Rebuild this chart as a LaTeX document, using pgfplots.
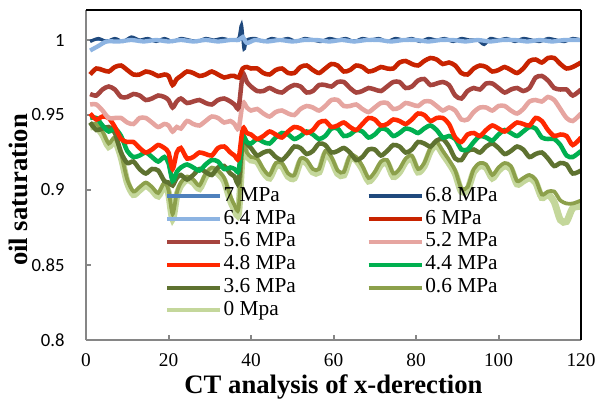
\documentclass[border=0pt]{standalone}
\usepackage{pgfplots}
\usepackage{pgfplotstable}
\pgfplotsset{compat=1.18}
\usepackage{fontspec}
\setmainfont{Liberation Serif}
\newfontfamily\ytickfont{Carlito}

\definecolor{c7}{RGB}{79,129,189}
\definecolor{c68}{RGB}{31,73,125}
\definecolor{c64}{RGB}{141,180,226}
\definecolor{c6}{RGB}{200,35,0}
\definecolor{c56}{RGB}{166,68,62}
\definecolor{c52}{RGB}{230,165,160}
\definecolor{c48}{RGB}{255,40,0}
\definecolor{c44}{RGB}{0,176,80}
\definecolor{c36}{RGB}{94,114,48}
\definecolor{c06}{RGB}{140,160,75}
\definecolor{c0}{RGB}{196,215,155}
\definecolor{axgray}{RGB}{134,134,134}

\pgfplotstableread{
x s6 s56 s52 s48 s44 s36 s06 s0
1 .977 .964 .957 .951 .948 .945 .944 .942
2.5 .981 .963 .957 .947 .948 .940 .944 .942
4 .980 .967 .953 .949 .943 .941 .939 .937
5.5 .979 .969 .948 .948 .939 .942 .931 .929
7 .982 .967 .948 .942 .941 .938 .935 .933
8.5 .983 .962 .948 .934 .936 .925 .924 .922
10 .980 .962 .945 .932 .926 .918 .907 .905
11.5 .977 .964 .944 .932 .922 .919 .899 .897
13 .977 .963 .948 .928 .923 .914 .902 .900
14.5 .979 .960 .948 .925 .925 .911 .905 .903
16 .978 .961 .945 .927 .922 .914 .902 .900
17.5 .976 .963 .942 .930 .919 .913 .898 .896
19 .977 .962 .944 .928 .922 .906 .905 .903
20 .976 .960 .943 .925 .918 .905 .900 .898
21 .970 .955 .939 .914 .906 .903 .884 .881
22 .974 .959 .942 .925 .912 .908 .898 .896
23 .976 .961 .941 .928 .915 .910 .905 .903
24.5 .979 .958 .946 .921 .917 .907 .909 .907
26 .978 .959 .944 .922 .915 .910 .907 .905
27.5 .976 .960 .943 .925 .913 .914 .903 .901
29 .977 .958 .946 .924 .917 .912 .911 .909
30.5 .979 .957 .949 .923 .920 .910 .915 .913
32 .977 .960 .948 .928 .919 .915 .913 .911
33.5 .975 .961 .945 .929 .914 .916 .908 .906
35 .976 .959 .946 .925 .915 .911 .896 .893
36 .976 .957 .944 .923 .914 .909 .890 .887
37 .975 .955 .941 .921 .913 .905 .888 .885
38 .981 .977 .958 .941 .935 .935 .930 .928
39 .982 .972 .955 .938 .932 .931 .925 .923
40 .981 .969 .953 .937 .931 .928 .922 .920
41.5 .981 .966 .954 .934 .934 .923 .921 .919
43 .978 .966 .951 .936 .932 .925 .914 .912
44.5 .977 .968 .949 .939 .931 .926 .910 .908
46 .980 .966 .952 .937 .935 .922 .918 .916
47.5 .981 .965 .953 .935 .938 .920 .918 .916
49 .978 .968 .951 .939 .937 .924 .911 .909
50.5 .978 .970 .950 .942 .934 .929 .910 .908
52 .982 .969 .954 .941 .936 .928 .921 .919
53.5 .983 .965 .956 .938 .939 .924 .920 .918
55 .980 .966 .955 .940 .937 .926 .914 .912
56.5 .978 .970 .953 .945 .934 .931 .914 .912
58 .981 .970 .956 .946 .936 .930 .926 .924
59.5 .984 .969 .960 .942 .941 .925 .922 .920
61 .983 .972 .960 .943 .941 .926 .913 .911
62.5 .979 .972 .956 .945 .936 .928 .912 .910
64 .980 .968 .956 .942 .937 .925 .923 .921
65.5 .983 .965 .957 .940 .940 .920 .922 .920
67 .982 .966 .954 .944 .939 .922 .916 .914
68.5 .979 .968 .952 .948 .935 .927 .908 .906
70 .980 .967 .955 .947 .937 .927 .912 .910
71.5 .982 .966 .958 .943 .941 .923 .919 .917
73 .981 .969 .958 .944 .940 .926 .920 .918
74.5 .981 .972 .954 .947 .936 .930 .911 .909
76 .985 .972 .955 .946 .938 .929 .914 .912
77.5 .986 .968 .958 .944 .941 .925 .921 .919
79 .984 .969 .957 .947 .940 .927 .923 .921
80.5 .983 .973 .956 .951 .938 .932 .914 .912
82 .986 .974 .959 .950 .941 .931 .918 .916
83.5 .988 .970 .959 .946 .943 .929 .928 .926
85 .987 .971 .956 .948 .940 .933 .932 .930
86.5 .984 .972 .953 .948 .935 .934 .926 .924
88 .985 .970 .955 .944 .936 .929 .920 .918
89.5 .983 .963 .953 .935 .934 .921 .913 .911
91 .978 .961 .947 .932 .927 .920 .901 .899
92.5 .977 .966 .947 .937 .927 .926 .902 .900
94 .981 .968 .952 .938 .932 .927 .914 .912
95.5 .983 .967 .955 .936 .936 .925 .918 .916
97 .982 .971 .955 .940 .935 .929 .917 .915
98.5 .979 .971 .953 .943 .933 .931 .910 .908
100 .980 .968 .956 .941 .937 .928 .915 .913
101.5 .982 .965 .956 .939 .940 .924 .918 .916
103 .980 .967 .953 .942 .938 .926 .916 .914
104.5 .978 .968 .951 .945 .936 .929 .906 .904
106 .981 .966 .954 .944 .939 .927 .908 .906
107.5 .986 .968 .959 .943 .942 .922 .910 .908
109 .987 .975 .960 .948 .941 .924 .907 .905
110.5 .985 .976 .959 .946 .935 .925 .897 .895
112 .988 .973 .962 .940 .934 .921 .899 .897
113.5 .988 .968 .960 .936 .934 .916 .899 .892
115 .984 .967 .954 .937 .930 .918 .893 .880
116.5 .981 .967 .948 .936 .923 .917 .891 .879
118 .982 .963 .946 .930 .922 .911 .891 .888
120 .985 .967 .951 .935 .926 .913 .893 .889
}\datatable

\begin{document}
\begin{tikzpicture}
\useasboundingbox (0,0) rectangle (448.5pt,300.75pt);
\begin{axis}[
  at={(64.5pt,45.75pt)}, anchor=south west,
  width=371.25pt, height=247.5pt, scale only axis,
  xmin=0, xmax=120, ymin=0.8, ymax=1.02,
  xtick={0,20,...,120}, ytick={0.8,0.85,0.9,0.95,1},
  axis x line*=bottom, axis y line*=left,
  axis line style={draw=axgray, line width=1.8pt},
  tick align=inside, major tick length=4pt,
  tick style={axgray, line width=1.5pt},
  /pgf/number format/assume math mode=true,
  xticklabel style={font=\fontsize{14.5}{17}\selectfont, yshift=-7pt},
  yticklabel style={font=\ytickfont\fontsize{14}{17}\selectfont, xshift=-12.5pt},
  xlabel={CT analysis of x-derection},
  ylabel={oil saturation},
  xlabel style={font=\fontsize{20}{24}\selectfont\bfseries, at={(axis description cs:0.5,-0.162)}, anchor=base},
  ylabel style={font=\fontsize{20}{24}\selectfont\bfseries, at={(axis description cs:-0.137,0.4545)}, anchor=center},
  legend style={at={(axis description cs:0.1596,0.468)}, anchor=north west, draw=none, fill=none,
    inner sep=0pt, outer sep=0pt, font=\fontsize{16}{19}\selectfont, row sep=0.8pt,
    nodes={inner sep=1pt, text height=10.8pt, text depth=3.5pt},
    /tikz/every even column/.append style={column sep=52pt}},
  legend columns=2,
  legend cell align=left,
  legend image code/.code={\draw[#1,line width=3pt] (0pt,0pt) -- (40pt,0pt);},
  after end axis/.code={
    \draw[black,line width=1.2pt] (rel axis cs:0,1) -- (rel axis cs:1,1);
    \draw[black,line width=2.2pt] (rel axis cs:1,1) -- (rel axis cs:1,0);
  },
]
\addlegendimage{c7}
\addlegendimage{c68}
\addlegendimage{c64}
\addlegendimage{c6}
\addlegendimage{c56}
\addlegendimage{c52}
\addlegendimage{c48}
\addlegendimage{c44}
\addlegendimage{c36}
\addlegendimage{c06}
\addlegendimage{c0}
\legend{7 MPa,6.8 MPa,6.4 MPa,6 MPa,5.6 MPa,5.2 MPa,4.8 MPa,4.4 MPa,3.6 MPa,0.6 MPa,0 Mpa}

\addplot[c0, line width=5.2pt, smooth, tension=0.45, forget plot] table[x=x,y=s0] {\datatable};
\addplot[c06, line width=2.8pt, smooth, tension=0.45, forget plot] table[x=x,y=s06] {\datatable};
\addplot[c36, line width=3.4pt, smooth, tension=0.45, forget plot] table[x=x,y=s36] {\datatable};
\addplot[c44, line width=3.4pt, smooth, tension=0.45, forget plot] table[x=x,y=s44] {\datatable};
\addplot[c48, line width=3.4pt, smooth, tension=0.45, forget plot] table[x=x,y=s48] {\datatable};
\addplot[c52, line width=3.4pt, smooth, tension=0.45, forget plot] table[x=x,y=s52] {\datatable};
\addplot[c56, line width=3.4pt, smooth, tension=0.45, forget plot] table[x=x,y=s56] {\datatable};
\addplot[c6, line width=3.4pt, smooth, tension=0.45, forget plot] table[x=x,y=s6] {\datatable};
\addplot[c7, line width=2pt, forget plot] coordinates {(1,1.000) (120,1.000)};
\addplot[c68, line width=2.4pt, smooth, tension=0.45, forget plot] coordinates {
(1,0.999) (3,1.001) (5,0.999) (7,1.001) (9,0.999) (11,1.002) (13,1.000) (15,1.001) (17,0.999) (19,1.001)
(21,0.999) (23,1.001) (25,1.000) (27,0.999) (29,1.001) (31,1.000) (33,1.001) (35,1.000) (37,1.001)
(37.7,1.010) (38.3,0.994) (39,1.000) (41,1.001) (43,0.999) (45,1.001) (47,1.000) (49,1.001) (51,0.999)
(53,1.001) (55,1.000) (57,0.999) (59,1.001) (61,1.000) (63,1.001) (65,0.999) (67,1.001) (69,1.000)
(71,1.001) (73,0.999) (75,1.001) (77,1.000) (79,1.001) (81,0.999) (83,1.001) (85,1.000) (87,1.001)
(89,0.999) (91,1.001) (93,1.000) (95,1.000) (96.5,0.997) (98,1.001) (100,1.000) (102,1.001) (104,0.999)
(106,1.001) (108,1.000) (110,0.999) (112,1.001) (114,1.000) (116,0.999) (118,1.001) (120,1.000)};
\addplot[c64, line width=3.2pt, smooth, tension=0.45, forget plot] coordinates {
(1,0.993) (3,0.996) (5,0.999) (8,0.999) (11,1.000) (14,0.999) (17,1.000) (20,0.999) (23,1.000)
(26,0.999) (29,1.000) (32,0.999) (35,1.000) (37,1.000) (38,1.002) (39,0.998) (41,1.000) (44,0.999)
(47,1.000) (50,0.999) (53,1.000) (56,1.000) (59,0.999) (62,1.000) (65,0.999) (68,1.000) (71,1.000)
(74,0.999) (77,1.000) (80,1.000) (83,0.999) (86,1.000) (89,1.000) (92,0.999) (95,1.000) (98,0.999)
(101,1.000) (104,1.000) (107,0.999) (110,1.000) (113,0.999) (116,1.000) (120,1.000)};
\end{axis}
\end{tikzpicture}
\end{document}
